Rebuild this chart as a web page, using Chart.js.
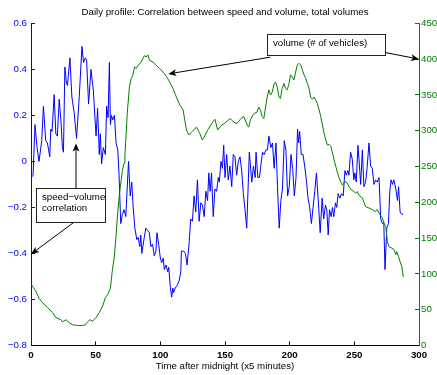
<!DOCTYPE html>
<html>
<head>
<meta charset="utf-8">
<title>Daily profile</title>
<script src="https://cdn.jsdelivr.net/npm/chart.js@4.4.1/dist/chart.umd.min.js"></script>
<style>
  html, body { margin: 0; padding: 0; background: #fff; }
  canvas { display: block; }
</style>
</head>
<body>
<canvas id="profileChart" width="437" height="375"></canvas>
<script>
// [time slot (x5 min after midnight), speed-volume correlation]
const corrSeries = [
  [0.2, -0.07], [1.6, -0.06], [3.1, 0.16], [4.7, 0.06], [6.2, 0.0], [8.3, 0.09], [9.6, 0.24], [11.4, 0.09],
  [12.7, 0.08], [14.5, 0.02], [15.3, 0.14], [16.3, 0.13], [17.9, 0.29], [19.2, 0.12], [20.4, 0.11], [21.8, 0.27],
  [23.1, 0.18], [24.3, 0.06], [25.1, 0.04], [26.2, 0.41], [27.4, 0.34], [28.2, 0.33], [30.1, 0.45], [31.6, 0.28],
  [33.4, 0.21], [35.2, 0.10], [37.3, 0.28], [39.4, 0.50], [40.6, 0.43], [42.0, 0.45], [43.0, 0.44], [44.5, 0.25],
  [46.4, 0.40], [48.2, 0.31], [50.3, 0.11], [51.5, 0.23], [52.8, 0.03], [53.6, 0.12], [54.6, -0.01], [55.9, 0.06],
  [57.5, 0.03], [58.5, 0.24], [59.6, 0.19], [60.6, 0.43], [61.4, 0.16], [62.2, 0.20], [63.2, 0.18], [64.5, 0.20],
  [65.8, 0.08], [67.1, 0.05], [68.0, -0.05], [69.4, -0.27], [70.7, -0.23], [72.0, -0.21], [73.3, -0.24], [75.4, 0.0],
  [76.7, -0.15], [77.9, -0.09], [79.0, -0.20], [80.3, -0.29], [81.8, -0.34], [82.9, -0.33], [84.1, -0.37], [84.9, -0.32],
  [85.7, -0.40], [87.6, -0.33], [88.8, -0.29], [90.1, -0.30], [91.5, -0.31], [92.7, -0.37], [94.0, -0.36], [95.3, -0.41],
  [96.6, -0.39], [97.4, -0.31], [98.7, -0.36], [100.0, -0.42], [101.0, -0.44], [102.3, -0.42], [103.1, -0.47], [104.4, -0.45],
  [105.7, -0.48], [106.5, -0.46], [107.8, -0.55], [108.8, -0.59], [109.6, -0.55], [110.3, -0.57], [111.5, -0.55], [112.9, -0.54],
  [114.5, -0.52], [115.8, -0.48], [116.3, -0.39], [118.1, -0.39], [119.4, -0.40], [120.7, -0.45], [122.2, -0.36], [123.5, -0.25],
  [124.8, -0.26], [126.1, -0.15], [127.4, -0.22], [128.7, -0.08], [130.0, -0.26], [131.3, -0.18], [132.6, -0.19], [133.9, -0.24],
  [135.2, -0.13], [136.5, -0.17], [137.5, -0.05], [138.5, -0.13], [139.6, -0.05], [140.9, -0.24], [142.2, -0.12], [143.5, -0.13],
  [144.8, -0.07], [145.6, -0.09], [146.9, 0.0], [148.0, -0.03], [149.0, 0.07], [150.0, -0.07], [151.3, 0.03], [152.5, -0.08],
  [153.8, -0.02], [155.2, -0.11], [156.4, 0.03], [157.7, 0.02], [159.0, -0.06], [160.3, 0.0], [161.6, 0.02], [162.9, -0.04],
  [164.2, -0.14], [165.5, -0.21], [166.8, -0.29], [168.8, 0.04], [170.7, -0.09], [172.0, -0.02], [173.3, -0.07], [174.0, 0.04],
  [175.4, -0.07], [176.6, -0.07], [177.9, -0.01], [179.0, 0.04], [180.3, 0.03], [181.6, 0.05], [182.8, 0.05], [183.9, 0.11],
  [185.5, 0.06], [186.7, 0.08], [188.0, -0.03], [189.4, 0.08], [190.6, -0.11], [191.9, -0.29], [193.2, -0.17], [194.4, -0.12],
  [195.8, 0.09], [197.1, 0.05], [198.4, -0.15], [199.7, -0.11], [201.0, 0.03], [202.3, -0.03], [203.6, -0.15], [204.9, -0.07],
  [206.1, 0.14], [206.9, 0.08], [207.7, 0.13], [209.0, 0.03], [210.3, 0.03], [211.6, -0.02], [212.9, -0.08], [214.2, -0.16],
  [215.5, -0.20], [216.8, -0.27], [218.1, -0.20], [219.4, -0.13], [220.7, -0.05], [222.0, -0.16], [223.6, -0.31], [225.1, -0.16],
  [226.3, -0.25], [227.7, -0.19], [228.7, -0.21], [229.8, -0.32], [230.8, -0.21], [232.1, -0.24], [233.1, -0.20], [234.1, -0.24],
  [235.4, -0.18], [236.4, -0.20], [237.5, -0.14], [238.8, -0.16], [240.1, -0.14], [241.4, -0.15], [242.7, -0.04], [243.8, -0.06],
  [245.0, -0.04], [245.8, -0.06], [247.1, 0.04], [248.4, 0.01], [249.6, -0.08], [250.4, -0.05], [251.5, -0.09], [252.8, 0.07],
  [253.6, 0.01], [254.9, -0.10], [256.2, 0.05], [257.4, -0.11], [258.7, -0.09], [260.0, -0.02], [261.3, 0.08], [262.6, -0.02],
  [263.9, -0.03], [265.2, -0.10], [266.5, -0.08], [267.8, -0.09], [269.1, -0.07], [270.4, -0.25], [271.8, -0.27], [272.8, -0.27],
  [273.7, -0.47], [275.1, -0.29], [276.4, -0.27], [277.4, -0.13], [278.4, -0.08], [279.5, -0.10], [280.5, -0.08], [282.1, -0.12],
  [283.4, -0.17], [284.2, -0.11], [285.4, -0.22], [286.7, -0.23], [287.7, -0.23]
];

// [time slot, total volume (vehicles)]
const volumeSeries = [
  [0.0, 86], [1.0, 83], [3.7, 76], [6.2, 66], [8.8, 60], [12.7, 53], [16.6, 46], [19.2, 39],
  [23.1, 36], [24.3, 33], [27.0, 36], [29.5, 32], [32.1, 29], [36.0, 28], [39.9, 28], [42.0, 29],
  [43.7, 33], [45.6, 36], [47.6, 34], [50.3, 39], [52.8, 46], [55.4, 55], [57.5, 67], [59.3, 71],
  [61.4, 80], [62.9, 105], [64.5, 125], [65.8, 155], [67.1, 187], [68.4, 212], [69.7, 230], [70.7, 245],
  [72.0, 255], [72.6, 265], [73.3, 287], [74.4, 324], [76.1, 361], [77.5, 373], [78.7, 377], [80.0, 389],
  [81.4, 387], [82.6, 391], [85.2, 396], [86.5, 401], [87.8, 405], [89.1, 403], [90.4, 406], [91.7, 398],
  [94.3, 396], [96.9, 391], [99.5, 387], [102.0, 382], [104.7, 376], [107.2, 368], [109.8, 359], [112.4, 347],
  [115.0, 336], [117.6, 329], [118.9, 315], [120.2, 301], [122.0, 294], [124.1, 298], [128.0, 305], [130.5, 296],
  [132.5, 287], [134.4, 293], [137.0, 302], [139.6, 310], [142.2, 316], [144.3, 301], [146.9, 307], [149.4, 310],
  [151.9, 314], [154.1, 317], [156.7, 312], [159.3, 310], [161.8, 316], [164.5, 320], [167.1, 308], [168.4, 305],
  [169.6, 315], [172.3, 324], [174.8, 326], [176.1, 333], [177.4, 329], [178.7, 320], [180.0, 317], [182.6, 347],
  [183.9, 357], [185.2, 350], [186.5, 354], [187.8, 364], [189.0, 368], [190.4, 361], [191.7, 347], [192.9, 345],
  [194.2, 359], [195.6, 366], [196.8, 359], [198.1, 357], [199.5, 366], [200.7, 378], [202.0, 375], [203.3, 371],
  [204.6, 382], [205.9, 392], [207.2, 394], [208.5, 392], [209.8, 385], [211.1, 378], [212.4, 373], [213.7, 366],
  [215.0, 359], [216.2, 347], [217.6, 344], [218.9, 347], [220.1, 343], [221.4, 338], [222.8, 329], [224.0, 320],
  [225.3, 308], [226.7, 296], [227.9, 287], [229.2, 280], [230.5, 281], [231.8, 278], [233.1, 269], [234.4, 259],
  [235.7, 250], [237.0, 241], [238.3, 234], [239.6, 228], [240.9, 224], [242.7, 229], [244.5, 227], [245.8, 222],
  [247.9, 217], [249.7, 215], [251.0, 213], [252.3, 215], [253.5, 210], [256.2, 206], [258.7, 194], [261.3, 192],
  [263.9, 190], [266.0, 187], [267.8, 190], [269.1, 185], [271.7, 178], [273.0, 171], [274.3, 166], [275.6, 145],
  [276.9, 138], [278.9, 136], [280.7, 134], [282.1, 127], [282.8, 131], [284.2, 124], [285.4, 117], [286.7, 110],
  [287.2, 104], [287.8, 96]
];

const timeTicks = [0, 50, 100, 150, 200, 250, 300];
const corrTicks = [-0.8, -0.6, -0.4, -0.2, 0, 0.2, 0.4, 0.6];
const volumeTicks = [0, 50, 100, 150, 200, 250, 300, 350, 400, 450];

// text callouts: box [x0, y0, x1, y1] and arrows [fromX, fromY, toX, toY] in data units
const volumeNote = {
  axis: 'y1',
  lines: ['volume (# of vehicles)'],
  box: [182.1, 406, 274.0, 435],
  arrows: [[185.0, 402.7, 106.2, 379.4], [274.0, 409.2, 300, 400]]
};
const corrNote = {
  axis: 'y',
  lines: ['speed\u2212volume', 'correlation'],
  box: [4.1, -0.262, 57.0, -0.117],
  arrows: [[34.8, -0.117, 34.8, 0.078], [33.8, -0.262, 0, -0.403]]
};

const FONT = '"Liberation Sans", Arial, Helvetica, sans-serif';
const BLUE = '#0000ff';
const GREEN = '#008000';

Chart.defaults.font.family = FONT;
Chart.defaults.font.size = 9.7;
Chart.defaults.color = '#000';

const formatCorr = v => Math.abs(v) < 1e-9 ? '0' : v.toFixed(1).replace('-', '\u2212');

// negative tick length puts the tick marks inside the plot area
const inwardTicks = color => ({
  display: true,
  drawOnChartArea: false,
  drawTicks: true,
  tickLength: -4,
  color: color,
  tickColor: color,
  lineWidth: 1
});

function drawArrow(ctx, x0, y0, x1, y1) {
  const ang = Math.atan2(y1 - y0, x1 - x0);
  const len = 8, half = 3.4, notch = 6;
  ctx.beginPath();
  ctx.moveTo(x0, y0);
  ctx.lineTo(x1 - Math.cos(ang) * notch, y1 - Math.sin(ang) * notch);
  ctx.stroke();
  ctx.save();
  ctx.translate(x1, y1);
  ctx.rotate(ang);
  ctx.beginPath();
  ctx.moveTo(0, 0);
  ctx.lineTo(-len, -half);
  ctx.lineTo(-notch, 0);
  ctx.lineTo(-len, half);
  ctx.closePath();
  ctx.fill();
  ctx.restore();
}

const callouts = {
  id: 'callouts',
  afterDraw(chart) {
    const { ctx, scales } = chart;
    const px = v => scales.x.getPixelForValue(v);
    [volumeNote, corrNote].forEach(note => {
      const py = v => scales[note.axis].getPixelForValue(v);
      const left = Math.round(px(note.box[0])) + 0.5;
      const right = Math.round(px(note.box[2])) + 0.5;
      const top = Math.round(py(note.box[3])) + 0.5;
      const bottom = Math.round(py(note.box[1])) + 0.5;

      ctx.save();
      ctx.lineWidth = 1;
      ctx.strokeStyle = '#000';
      ctx.fillStyle = '#000';
      note.arrows.forEach(a => drawArrow(ctx, px(a[0]), py(a[1]), px(a[2]), py(a[3])));

      ctx.fillStyle = '#fff';
      ctx.fillRect(left, top, right - left, bottom - top);
      ctx.strokeStyle = '#222';
      ctx.strokeRect(left, top, right - left, bottom - top);

      ctx.fillStyle = '#000';
      ctx.font = '9.7px ' + FONT;
      ctx.textAlign = 'left';
      ctx.textBaseline = 'middle';
      note.lines.forEach((line, i) => ctx.fillText(line, left + 5.5, top + 9 + i * 11));
      ctx.restore();
    });
  }
};

const ctx = document.getElementById('profileChart');

new Chart(ctx, {
  type: 'line',
  data: {
    datasets: [
      {
        label: 'volume (# of vehicles)',
        data: volumeSeries.map(([x, y]) => ({ x, y })),
        yAxisID: 'y1',
        borderColor: GREEN,
        borderWidth: 1,
        borderJoinStyle: 'round',
        pointRadius: 0,
        tension: 0,
        fill: false,
        order: 0
      },
      {
        label: 'speed-volume correlation',
        data: corrSeries.map(([x, y]) => ({ x, y })),
        yAxisID: 'y',
        borderColor: BLUE,
        borderWidth: 1,
        borderJoinStyle: 'round',
        pointRadius: 0,
        tension: 0,
        fill: false,
        order: 1
      }
    ]
  },
  options: {
    responsive: false,
    animation: false,
    events: [],
    layout: { padding: 0 },
    plugins: {
      legend: { display: false },
      tooltip: { enabled: false },
      title: {
        display: true,
        text: 'Daily profile: Correlation between speed and volume, total volumes',
        fullSize: false,
        color: '#000',
        font: { size: 9.7, weight: 'normal' },
        padding: { top: 7, bottom: 4.7 }
      }
    },
    scales: {
      x: {
        type: 'linear',
        min: timeTicks[0],
        max: timeTicks[timeTicks.length - 1],
        afterBuildTicks: s => { s.ticks = timeTicks.map(value => ({ value })); },
        afterFit: s => { s.height = 29.5; },
        ticks: { padding: 8, color: '#000', font: { weight: 'bold' }, maxRotation: 0, autoSkip: false },
        grid: inwardTicks('#000'),
        border: { display: true, color: '#000', width: 1 },
        title: {
          display: true,
          text: 'Time after midnight (x5 minutes)',
          color: '#000',
          padding: { top: 0, bottom: 3 }
        }
      },
      y: {
        type: 'linear',
        position: 'left',
        min: corrTicks[0],
        max: corrTicks[corrTicks.length - 1],
        afterBuildTicks: s => { s.ticks = corrTicks.map(value => ({ value })); },
        afterFit: s => { s.width = 31; },
        ticks: { padding: 8, color: BLUE, callback: v => formatCorr(v) },
        grid: inwardTicks(BLUE),
        border: { display: true, color: BLUE, width: 1 }
      },
      y1: {
        type: 'linear',
        position: 'right',
        min: volumeTicks[0],
        max: volumeTicks[volumeTicks.length - 1],
        afterBuildTicks: s => { s.ticks = volumeTicks.map(value => ({ value })); },
        afterFit: s => { s.width = 18; },
        ticks: { padding: 6, color: GREEN, callback: v => String(v) },
        grid: inwardTicks(GREEN),
        border: { display: true, color: GREEN, width: 1 }
      }
    }
  },
  plugins: [callouts]
});
</script>
</body>
</html>
